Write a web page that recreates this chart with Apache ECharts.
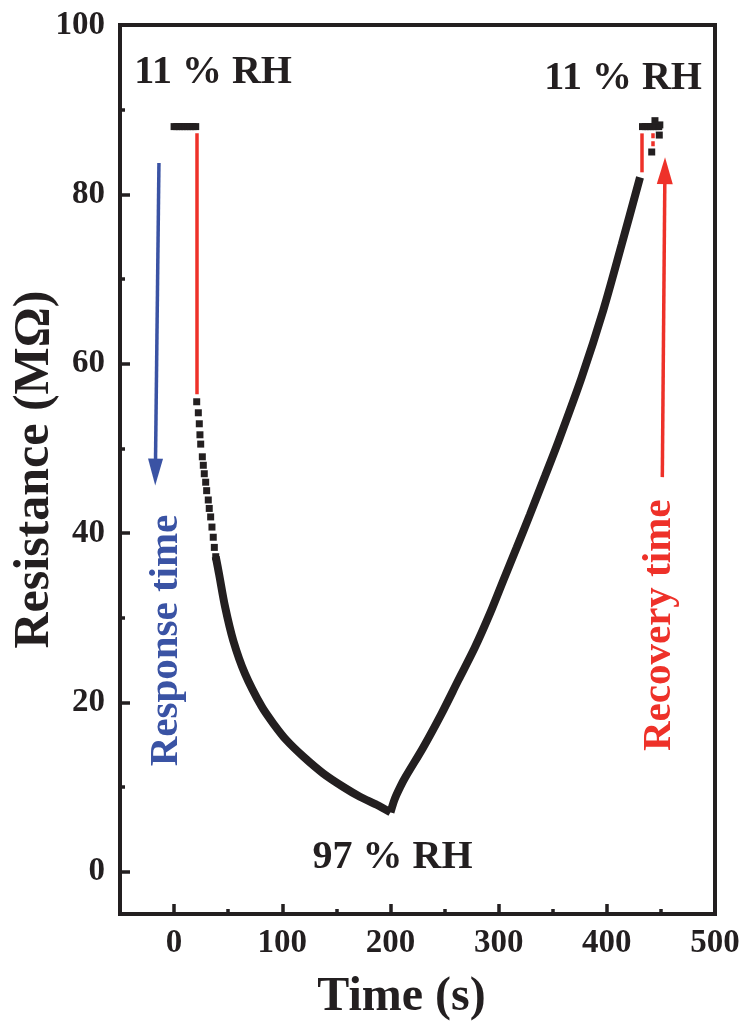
<!DOCTYPE html>
<html>
<head>
<meta charset="utf-8">
<script src="https://cdn.jsdelivr.net/npm/echarts@6/dist/echarts.min.js"></script>
<style>
  html, body { margin: 0; padding: 0; background: #ffffff; }
  #chart { width: 743px; height: 1025px; }
</style>
</head>
<body>
<div id="chart"></div>
<script>
// ---------- data ----------
const xTickLabels = [0, 100, 200, 300, 400, 500];
const xMinorTicks = [50, 150, 250, 350, 450];
const yTickLabels = [0, 20, 40, 60, 80, 100];
const yMinorTicks = [10, 30, 50, 70, 90];

// 11 % RH baseline before switching
const startTime = [0, 2.5, 5, 7.5, 10, 12.5, 15, 17.5, 20];
const startRes  = [88, 88, 88, 88, 88, 88, 88, 88, 88];

// first sparse points after switching to 97 % RH
const responseSparseTime = [20.9, 22.4, 23.3, 23.9, 24.6, 26.1, 27.0, 27.9, 29.2, 30.1, 31.6, 32.5, 33.8, 35.0, 36.2, 37.2, 38.5];
const responseSparseRes  = [55.5, 54.2, 52.9, 51.6, 50.5, 49.0, 48.0, 47.0, 46.0, 45.0, 43.9, 42.9, 41.9, 40.7, 39.5, 38.3, 37.2];

// dense response decay
const responseTime = [38.5, 41.5, 47.1, 54.7, 65.5, 81.0, 91.7, 104.1, 119.4, 137.9, 156.5, 171.8, 187.3, 200];
const responseRes  = [37.2, 35.2, 31.3, 27.3, 23.4, 19.5, 17.5, 15.5, 13.6, 11.6, 10.0, 8.85, 7.9, 7.0];

// dense recovery rise
const recoveryTime = [200, 204, 209, 214, 230.4, 247.4, 262.7, 278.1, 292.0, 304.3, 316.7, 329.0, 342.8, 355.2, 376.8, 396.7, 413.8, 430.7];
const recoveryRes  = [7.0, 8.6, 10.0, 11.2, 14.7, 18.7, 22.6, 26.5, 30.5, 34.4, 38.3, 42.2, 46.7, 50.8, 58.4, 66.3, 74.1, 82.0];

// back at 11 % RH
const endTime = [433, 435.5, 438, 440.5, 443, 445.5, 448, 449, 444.5, 448.5, 441.5];
const endRes  = [88, 88, 88, 88, 88, 88, 88, 88.2, 88.7, 87.0, 85.0];

// red jump markers
const redLineTime   = [21, 432.5];
const redLineTop    = [87.2, 87.2];
const redLineBottom = [56.4, 82.6];
const redDashTime = [442.3];
const redDashTop = [87.2];
const redDashBottom = [85.6];

// arrows (tail -> centre of arrow head)
const responseArrowTime = [-14.0, -17.3];
const responseArrowRes  = [83.7, 47.2];
const recoveryArrowTime = [451.3, 453.7];
const recoveryArrowRes  = [46.6, 82.8];

// text annotations
const rhText = ['11 % RH', '11 % RH', '97 % RH'];
const rhTime = [36, 415, 202];
const rhRes  = [94.4, 93.7, 1.6];
const sideText  = ['Response time', 'Recovery time'];
const sideTime  = [-7.5, 449];
const sideRes   = [27.3, 29.1];
const sideColor = ['#3a53a4', '#ee3129'];

// ---------- chart ----------
const BLACK = '#231f20';
const RED = '#ee3129';
const BLUE = '#3a53a4';
const FONT = "'Liberation Serif', 'Times New Roman', serif";

const zip = (a, b) => a.map((v, i) => [v, b[i]]);

const markLines = [];
redLineTime.forEach((t, i) => {
  markLines.push([
    { coord: [t, redLineTop[i]], symbol: 'none', lineStyle: { color: RED, width: 3.5, type: 'solid' } },
    { coord: [t, redLineBottom[i]], symbol: 'none' }
  ]);
});
redDashTime.forEach((t, i) => {
  markLines.push([
    { coord: [t, redDashTop[i]], symbol: 'none', lineStyle: { color: RED, width: 3.5, type: [5, 3] } },
    { coord: [t, redDashBottom[i]], symbol: 'none' }
  ]);
});
markLines.push([
  { coord: [responseArrowTime[0], responseArrowRes[0]], symbol: 'none', lineStyle: { color: BLUE, width: 3.5, type: 'solid' } },
  { coord: [responseArrowTime[1], responseArrowRes[1]], symbol: 'triangle', symbolSize: [15, 27] }
]);
markLines.push([
  { coord: [recoveryArrowTime[0], recoveryArrowRes[0]], symbol: 'none', lineStyle: { color: RED, width: 3.5, type: 'solid' } },
  { coord: [recoveryArrowTime[1], recoveryArrowRes[1]], symbol: 'triangle', symbolSize: [16, 27] }
]);

const rhData = rhText.map((s, i) => ({ name: s, value: [rhTime[i], rhRes[i]] }));
const sideData = sideText.map((s, i) => ({
  name: s, value: [sideTime[i], sideRes[i]],
  label: { color: sideColor[i] }
}));

const axisCommon = {
  type: 'value',
  splitLine: { show: false },
};

const option = {
  backgroundColor: '#ffffff',
  animation: false,
  grid: {
    left: 120, right: 28, top: 25, bottom: 111,
    containLabel: false, outerBoundsMode: 'none',
    show: true, borderColor: BLACK, borderWidth: 4, backgroundColor: 'transparent'
  },
  xAxis: [
    Object.assign({}, axisCommon, {
      min: -50, max: 500, position: 'bottom',
      axisLine: { show: true, onZero: false, lineStyle: { color: BLACK, width: 4 } },
      axisTick: { show: true, inside: true, length: 10, customValues: xTickLabels, lineStyle: { color: BLACK, width: 3.5 } },
      axisLabel: { show: true, customValues: xTickLabels, margin: 13, color: BLACK, fontFamily: FONT, fontWeight: 'bold', fontSize: 33 },
      name: 'Time (s)', nameLocation: 'middle', nameGap: 60, nameMoveOverlap: false,
      nameTextStyle: { color: BLACK, fontFamily: FONT, fontWeight: 'bold', fontSize: 48, padding: [0, 32, 0, 0] }
    }),
    Object.assign({}, axisCommon, {
      min: -50, max: 500, position: 'bottom',
      axisLine: { show: false, onZero: false },
      axisTick: { show: true, inside: true, length: 5, customValues: xMinorTicks, lineStyle: { color: BLACK, width: 3.5 } },
      axisLabel: { show: false }
    })
  ],
  yAxis: [
    Object.assign({}, axisCommon, {
      min: -5, max: 100, position: 'left',
      axisLine: { show: true, onZero: false, lineStyle: { color: BLACK, width: 4 } },
      axisTick: { show: true, inside: true, length: 10, customValues: yTickLabels, lineStyle: { color: BLACK, width: 3.5 } },
      axisLabel: { show: true, customValues: yTickLabels, margin: 15, color: BLACK, fontFamily: FONT, fontWeight: 'bold', fontSize: 33 },
      name: 'Resistance (M\u03A9)', nameLocation: 'middle', nameGap: 60, nameRotate: 90, nameMoveOverlap: false,
      nameTextStyle: { color: BLACK, fontFamily: FONT, fontWeight: 'bold', fontSize: 50 }
    }),
    Object.assign({}, axisCommon, {
      min: -5, max: 100, position: 'left',
      axisLine: { show: false, onZero: false },
      axisTick: { show: true, inside: true, length: 5, customValues: yMinorTicks, lineStyle: { color: BLACK, width: 3.5 } },
      axisLabel: { show: false }
    })
  ],
  series: [
    {
      type: 'line', name: 'response', data: zip(responseTime, responseRes),
      smooth: 0.3, showSymbol: false, symbol: 'none',
      lineStyle: { color: BLACK, width: 8 }, z: 3
    },
    {
      type: 'line', name: 'recovery', data: zip(recoveryTime, recoveryRes),
      smooth: 0.3, showSymbol: false, symbol: 'none',
      lineStyle: { color: BLACK, width: 8 }, z: 3
    },
    {
      type: 'scatter', name: 'points',
      data: zip(startTime, startRes).concat(zip(responseSparseTime, responseSparseRes), zip(endTime, endRes)),
      symbol: 'rect', symbolSize: 7, itemStyle: { color: BLACK, opacity: 1 }, z: 4
    },
    {
      type: 'line', name: 'markers', data: [], symbol: 'none',
      markLine: { silent: true, animation: false, symbol: ['none', 'none'], label: { show: false }, emphasis: { disabled: true }, data: markLines },
      z: 2
    },
    {
      type: 'scatter', name: 'rh', data: rhData, symbolSize: 1, itemStyle: { color: '#ffffff', opacity: 0 },
      label: { show: true, position: 'inside', formatter: '{b}', color: BLACK, opacity: 1, fontFamily: FONT, fontWeight: 'bold', fontSize: 40 },
      z: 5
    },
    {
      type: 'scatter', name: 'side', data: sideData, symbolSize: 1, itemStyle: { color: '#ffffff', opacity: 0 },
      label: { show: true, position: 'inside', rotate: 90, formatter: '{b}', opacity: 1, fontFamily: FONT, fontWeight: 'bold', fontSize: 41 },
      z: 5
    }
  ]
};

const chart = echarts.init(document.getElementById('chart'), null, { renderer: 'canvas' });
chart.setOption(option);
</script>
</body>
</html>
